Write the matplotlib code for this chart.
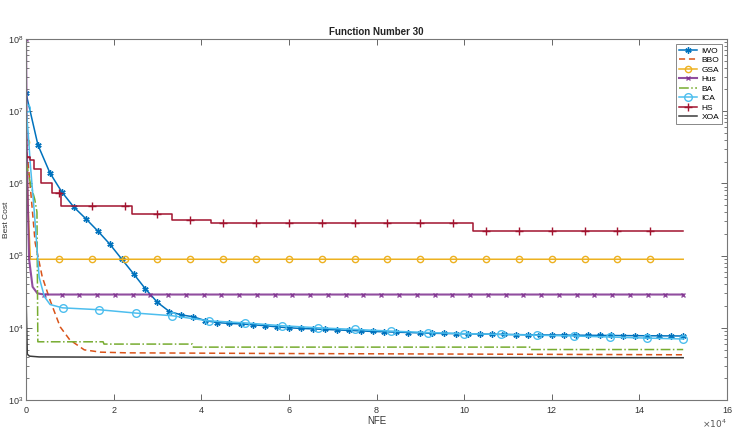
import numpy as np
import matplotlib
matplotlib.use("Agg")
import matplotlib.pyplot as plt
from matplotlib.ticker import LogLocator, FixedLocator, NullFormatter

plt.rcParams['font.family'] = ['Liberation Sans', 'DejaVu Sans']

# NFE in units of 1e4
iwo_nfe = np.linspace(0, 15, 56)
iwo_cost = [1.78e7, 3.4e6, 1.4e6, 7.6e5, 4.7e5, 3.25e5, 2.2e5, 1.45e5, 9.0e4, 5.6e4,
            3.45e4, 2.25e4, 1.68e4, 1.51e4, 1.42e4, 1.26e4, 1.18e4, 1.15e4, 1.13e4, 1.10e4,
            1.07e4, 1.03e4, 1.00e4, 9.8e3, 9.65e3, 9.5e3, 9.35e3, 9.2e3, 9.05e3, 8.9e3,
            8.8e3, 8.7e3, 8.6e3, 8.5e3, 8.4e3, 8.35e3, 8.3e3, 8.25e3, 8.2e3, 8.15e3,
            8.1e3, 8.05e3, 8.0e3, 7.98e3, 7.95e3, 7.92e3, 7.9e3, 7.88e3, 7.85e3, 7.83e3,
            7.8e3, 7.78e3, 7.76e3, 7.74e3, 7.72e3, 7.7e3]

bbo_nfe = [0, 0.08, 0.15, 0.21, 0.37, 0.55, 0.78, 1.0, 1.33, 1.7, 2.3, 6.0, 15]
bbo_cost = [3.7e6, 1.2e6, 3.9e5, 1.5e5, 5.1e4, 2.4e4, 1.03e4, 6.8e3, 4.95e3, 4.6e3,
            4.5e3, 4.4e3, 4.23e3]

gsa_nfe = [0, 0.03, 0.06, 0.1] + list(np.arange(1, 20) * 0.75) + [15]
gsa_cost = [3.7e6, 1.0e6, 3.0e5, 8.9e4] + [8.9e4] * 19 + [8.9e4]
gsa_marks = [0] + list(range(4, 23))

hus_nfe = [0, 0.02, 0.04, 0.07, 0.15, 0.26] + list(np.linspace(0, 15, 38)[1:])
hus_cost = [1e8, 3e6, 6e5, 9e4, 3.7e4, 3.0e4] + [2.89e4] * 37
hus_marks = [0] + list(range(6, 43))

ba_nfe = [0, 0.1, 0.2, 0.25, 0.27, 1.76, 1.78, 3.8, 3.82, 11.5, 11.52, 15]
ba_cost = [2.0e6, 1.0e6, 6e5, 4e5, 6.4e3, 6.4e3, 5.95e3, 5.95e3, 5.4e3, 5.4e3, 5.0e3, 5.0e3]

ica_nfe = [0, 0.05, 0.1, 0.19, 0.3, 0.42, 0.55] + list(np.linspace(0, 15, 19)[1:])
ica_cost = [1.1e7, 5e6, 1.8e6, 4e5, 5e4, 2.7e4, 2.1e4,
            1.89e4, 1.78e4, 1.6e4, 1.47e4, 1.25e4, 1.17e4, 1.07e4, 1.0e4, 9.5e3,
            9.0e3, 8.6e3, 8.3e3, 8.1e3, 7.9e3, 7.7e3, 7.45e3, 7.2e3, 7.0e3]
ica_marks = [0] + list(range(7, 25))

hs_nfe = [0, 0.08, 0.19, 0.35, 0.6, 0.75, 0.79, 1.5, 2.25, 2.41, 3.0, 3.33, 3.75, 4.22,
          4.5, 5.25, 6.0, 6.75, 7.5, 8.25, 9.0, 9.75, 10.2, 10.5, 11.25, 12.0, 12.75,
          13.5, 14.25, 15.0]
hs_cost = [2.3e6, 2.1e6, 1.6e6, 1.0e6, 7.4e5, 7.4e5, 4.8e5, 4.8e5, 4.8e5, 3.8e5, 3.8e5,
           3.1e5, 3.1e5] + [2.8e5] * 9 + [2.2e5] * 8
hs_marks = [i for i, v in enumerate(hs_nfe) if abs(v / 0.75 - round(v / 0.75)) < 1e-6 and v < 14.5]

xoa_nfe = [0, 0.03, 0.08, 0.3, 3, 15]
xoa_cost = [3e4, 4.3e3, 4.05e3, 3.95e3, 3.9e3, 3.85e3]

fig = plt.figure(figsize=(7.41, 4.34), dpi=100)
ax = fig.add_axes([26/741, 34/434, 701/741, 361/434])

lw = 1.1
ax.plot(iwo_nfe, iwo_cost, color='#0072BD', lw=lw, marker=(6, 2, 0), ms=4.5, mew=1.0, label='IWO')
ax.plot(bbo_nfe, bbo_cost, color='#D95319', lw=lw, ls='--', dashes=(4, 2.5), label='BBO')
ax.plot(gsa_nfe, gsa_cost, color='#EDB120', lw=lw, marker='o', ms=4.5, mfc='none', mew=1.0,
        markevery=gsa_marks, label='GSA')
ax.plot(hus_nfe, hus_cost, color='#7E2F8E', lw=1.5, marker='x', ms=3.5, mew=1.0,
        markevery=hus_marks, alpha=0.85, label='Hus')
ax.plot(ba_nfe, ba_cost, color='#77AC30', lw=lw, ls='-.', label='BA')
ax.plot(ica_nfe, ica_cost, color='#4DBEEE', lw=lw, marker='o', ms=5.5, mfc='none', mew=1.0,
        markevery=ica_marks, label='ICA')
ax.plot(hs_nfe, hs_cost, color='#A2142F', lw=lw, marker='+', ms=6, mew=1.0,
        markevery=hs_marks, drawstyle='steps-post', label='HS')
ax.plot(xoa_nfe, xoa_cost, color='#3a3a3a', lw=lw, label='XOA')

ax.set_yscale('log')
ax.set_xlim(0, 16)
ax.set_ylim(1e3, 1e8)
ax.xaxis.set_major_locator(FixedLocator(np.arange(0, 17, 2)))
ax.yaxis.set_major_locator(LogLocator(base=10, numticks=10))
ax.yaxis.set_minor_locator(LogLocator(base=10, subs=np.arange(2, 10), numticks=20))
ax.yaxis.set_minor_formatter(NullFormatter())

ax.tick_params(which='both', direction='in', top=True, right=True, colors='#666666',
               labelcolor='#333333', labelsize=6.5)
ax.tick_params(which='major', length=4, width=0.7)
ax.tick_params(which='minor', length=2, width=0.6)
ax.tick_params(axis='x', pad=4)
ax.tick_params(axis='y', pad=2)
for s in ax.spines.values():
    s.set_color('#777777')
    s.set_linewidth(0.8)

ax.set_title('Function Number 30', fontsize=7, fontweight='bold', color='#222222', pad=3)
ax.set_xlabel('NFE', fontsize=7, color='#333333', labelpad=1)
ax.set_ylabel('Best Cost', fontsize=6, color='#333333')
ax.yaxis.set_label_coords(-0.023, 0.5)
ax.text(1.0, -0.05, r'$\times10^4$', transform=ax.transAxes, ha='right', va='top',
        fontsize=6.5, color='#555555')

leg = ax.legend(loc='upper right', fontsize=6, handlelength=2.2, labelspacing=0.2,
                borderpad=0.35, handletextpad=0.5, borderaxespad=0.6, fancybox=False,
                framealpha=1)
leg.get_frame().set_edgecolor('#888888')
leg.get_frame().set_linewidth(0.7)

fig.savefig('out.png', dpi=100)
